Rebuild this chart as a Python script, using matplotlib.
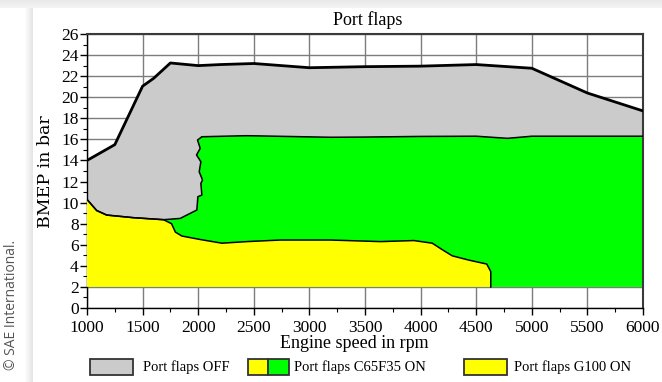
import numpy as np
import matplotlib
matplotlib.use("Agg")
import matplotlib.pyplot as plt
from matplotlib.patches import Rectangle

# ---- data (engine speed in rpm, BMEP in bar) ----
off_rpm = [1000, 1250, 1500, 1600, 1750, 2000, 2200, 2500, 3000, 3500, 4000, 4500, 5000, 5500, 6000]
off_bmep = [14.0, 15.5, 21.05, 21.8, 23.25, 23.0, 23.1, 23.2, 22.8, 22.9, 22.95, 23.1, 22.75, 20.4, 18.7]

# C65F35 full-load boundary (left/top outline, floor at 2 bar)
c65_rpm = [1000, 1000, 1087, 1177, 1418, 1688, 1838, 1898, 1988, 1997, 2033, 2024, 2039,
           2009, 2024, 1985, 2018, 1994, 2033, 2438, 3189, 3500, 4000, 4500, 4781, 5000, 6000, 6000]
c65_bmep = [2.0, 10.3, 9.25, 8.82, 8.57, 8.38, 8.5, 8.82, 9.3, 10.56, 10.72, 11.83, 12.14,
            12.93, 13.88, 14.52, 15.15, 15.94, 16.25, 16.35, 16.2, 16.22, 16.28, 16.3, 16.1, 16.3, 16.3, 2.0]

# G100 boundary
g100_rpm = [1000, 1000, 1087, 1177, 1418, 1688, 1760, 1795, 1853, 2018, 2213, 2438, 2739, 3189,
            3640, 3940, 4105, 4200, 4285, 4432, 4595, 4631, 4631]
g100_bmep = [2.0, 10.3, 9.25, 8.82, 8.57, 8.38, 8.0, 7.2, 6.83, 6.5, 6.15, 6.3, 6.45, 6.45,
             6.3, 6.4, 6.15, 5.5, 4.95, 4.55, 4.17, 3.45, 2.0]

floor_bmep = 2.0
x_ticks = list(range(1000, 6001, 500))
y_ticks = list(range(0, 27, 2))

legend_labels = ["Port flaps OFF", "Port flaps C65F35 ON", "Port flaps G100 ON"]

GRAY = "#cbcbcb"
GREEN = "#00ff00"
YELLOW = "#ffff00"
SERIF = ["Liberation Serif", "DejaVu Serif"]

W, H = 662, 382
fig = plt.figure(figsize=(W / 100, H / 100), dpi=100)
fig.patch.set_facecolor("white")

# page background: white sheet with a soft shadow at the top and left
bg = fig.add_axes([0, 0, 1, 1], zorder=-10)
bg.axis("off")
img = np.ones((H, W))
top = np.linspace(0.915, 0.955, 8)
img[:8, :] = top[:, None]
left_shadow = np.linspace(1.0, 0.90, 9)
img[8:, 24:33] = left_shadow[None, :]
bg.imshow(np.dstack([img] * 3), extent=[0, W, H, 0], aspect="auto", interpolation="bilinear")
bg.set_xlim(0, W)
bg.set_ylim(H, 0)

ax = fig.add_axes([87 / W, 1 - 308 / H, 556 / W, 274 / H])
ax.set_xlim(1000, 6000)
ax.set_ylim(0, 26)
ax.set_axisbelow(True)
ax.grid(True, which="major", color="#7d7d7d", lw=1.0)

# OFF region
ax.fill([off_rpm[0]] + off_rpm + [off_rpm[-1]], [floor_bmep] + off_bmep + [floor_bmep],
        color=GRAY, ec="none", zorder=1)
ax.plot(off_rpm, off_bmep, color="black", lw=2.0, zorder=4, solid_joinstyle="round")

# C65F35 region
ax.fill(c65_rpm, c65_bmep, color=GREEN, ec="none", zorder=2)
ax.plot(c65_rpm[1:-1], c65_bmep[1:-1], color="black", lw=1.1, zorder=4)

# G100 region
ax.fill(g100_rpm, g100_bmep, color=YELLOW, ec="none", zorder=3)
ax.plot(g100_rpm[1:], g100_bmep[1:], color="black", lw=1.1, zorder=4)

ax.set_xticks(x_ticks)
ax.set_yticks(y_ticks)
ax.set_xticks(np.arange(1000, 6001, 250), minor=True)
ax.set_yticks(np.arange(0, 27, 1), minor=True)
ax.tick_params(which="major", direction="out", length=5, width=1, pad=1, labelsize=12.5)
ax.tick_params(axis="x", which="major", pad=4)
ax.tick_params(which="minor", direction="out", length=3, width=0.8)
for lab in ax.get_xticklabels() + ax.get_yticklabels():
    lab.set_family(SERIF)

for s in ("left", "bottom"):
    ax.spines[s].set_color("black")
    ax.spines[s].set_linewidth(1.0)
for s in ("top", "right"):
    ax.spines[s].set_color("#3a3a3a")
    ax.spines[s].set_linewidth(1.5)

ax.set_xlabel("Engine speed in rpm", family=SERIF, fontsize=13, va="top")
ax.xaxis.set_label_coords(0.48, -0.1)
ax.set_ylabel("BMEP in bar", family=["DejaVu Serif"], fontsize=12.5, va="center")
ax.yaxis.set_label_coords(-0.0755, 0.498)

fig.text(368 / W, 1 - 25 / H, "Port flaps", family=SERIF, fontsize=13,
         ha="center", va="baseline")

fig.text(12 / W, 1 - 305 / H, "\u00a9 SAE International.", rotation=90,
         family=["Open Sans", "DejaVu Sans"], fontsize=10, color="#555555",
         ha="center", va="center")

# legend row
def swatch(x0, x1, color):
    y0, y1 = 359, 375
    fig.add_artist(Rectangle((x0 / W, 1 - y1 / H), (x1 - x0) / W, (y1 - y0) / H,
                             transform=fig.transFigure, fc=color, ec="#333333", lw=1.3))

def legend_text(x, s):
    fig.text(x / W, 1 - 367 / H, s, family=SERIF, fontsize=10.5, ha="left", va="center")

swatch(90, 133, GRAY)
legend_text(143, legend_labels[0])
swatch(248, 268, YELLOW)
swatch(268, 289, GREEN)
legend_text(294, legend_labels[1])
swatch(464, 507, YELLOW)
legend_text(514, legend_labels[2])

fig.savefig("out.png", dpi=100)
